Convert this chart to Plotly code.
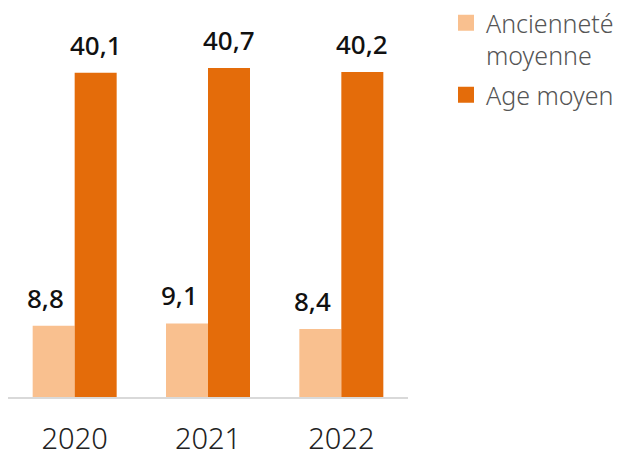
import plotly.graph_objects as go

years = ["2020", "2021", "2022"]
anciennete = [8.8, 9.1, 8.4]
age = [40.1, 40.7, 40.2]

light = "#F9C08F"
dark = "#E46C0A"

def fmt(v):
    return f"{v:.1f}".replace(".", ",")

label_font = dict(family="Noto Sans", size=26, color="#111", weight=500)

fig = go.Figure()
fig.add_bar(
    x=years, y=anciennete, name="Ancienneté<br>moyenne", showlegend=False,
    marker=dict(color=light, line=dict(width=0)),
)
fig.add_bar(
    x=years, y=age, name="Age moyen", showlegend=False,
    marker=dict(color=dark, line=dict(width=0)),
)

# value labels above each bar; x is the category index, shifted to the
# bar's slot within its group
for vals, dx in [(anciennete, -29), (age, 21)]:
    for i, v in enumerate(vals):
        fig.add_annotation(
            x=i, y=v, text=fmt(v), showarrow=False,
            xanchor="center", yanchor="bottom", xshift=dx, yshift=8,
            font=label_font,
        )

# square swatches for the legend
for name, col, grp in [("Ancienneté<br>moyenne", light, "a"), ("Age moyen", dark, "b")]:
    fig.add_scatter(
        x=[years[0]], y=[None], mode="markers", name=name, legendgroup=grp,
        marker=dict(symbol="square", size=17, color=col),
    )

fig.update_layout(
    width=619, height=452,
    margin=dict(l=8, r=209, t=0, b=55),
    barmode="group", bargap=0.37, bargroupgap=0,
    plot_bgcolor="white", paper_bgcolor="white",
    font=dict(family="Noto Sans", color="#333"),
    showlegend=True,
    legend=dict(
        x=1.095, xanchor="left", y=1.0, yanchor="top",
        font=dict(size=25, color="#555", weight=300),
        itemwidth=30, tracegroupgap=4, traceorder="grouped", valign="top",
        bgcolor="rgba(0,0,0,0)",
    ),
)
fig.update_xaxes(
    type="category", categoryorder="array", categoryarray=years,
    range=[-0.5, len(years) - 0.5],
    showline=True, linecolor="#D9D9D9", linewidth=2,
    showgrid=False, ticks="", tickfont=dict(size=29, color="#222", weight=300),
    ticklabelstandoff=15, automargin=False,
)
fig.update_yaxes(
    range=[0, 49.1], visible=False, showgrid=False, zeroline=False,
    automargin=False,
)

fig.write_html("out.html")
